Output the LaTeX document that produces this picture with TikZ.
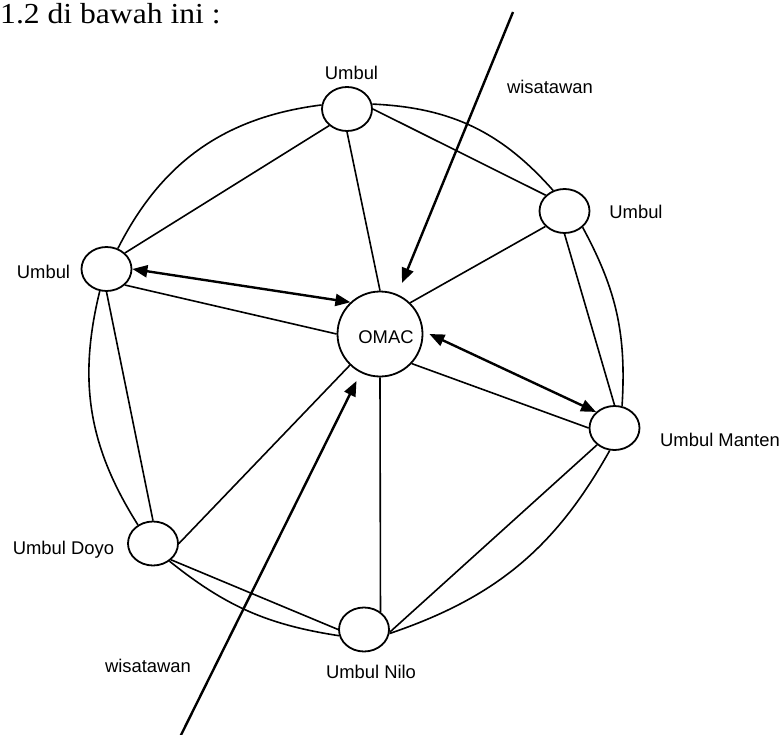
\documentclass[tikz,border=0pt]{standalone}
\usepackage{fontspec}
\setmainfont{Liberation Serif}
\newfontfamily\arialfont{Liberation Sans}
\usetikzlibrary{arrows.meta,shapes.geometric}
\begin{document}
\begin{tikzpicture}[x=1pt,y=1pt,
  site/.style={ellipse, draw, line width=1.8pt, fill=white, minimum width=50pt, minimum height=44pt, inner sep=0pt},
  hub/.style={circle, draw, line width=1.8pt, fill=white, minimum size=85pt, inner sep=0pt},
  lbl/.style={font=\arialfont\fontsize{18.4}{20}\selectfont, inner sep=0pt, anchor=base},
  link/.style={line width=1.6pt},
  flow/.style={line width=2.4pt, -{Triangle[length=15pt,width=12pt]}},
  both/.style={line width=2.4pt, {Triangle[length=15pt,width=12pt]}-{Triangle[length=15pt,width=12pt]}}
]
\useasboundingbox (0,0) rectangle (781,-735);

\node[anchor=base west, inner sep=0pt, font=\fontsize{29}{32}\selectfont, xscale=1.09, transform shape] (title) at (0,-24) {1.2 di bawah ini :};

\node[site] (T) at (347,-109) {};
\node[site] (RT) at (564.5,-211) {};
\node[site] (L) at (106.5,-269) {};
\node[hub] (O) at (380,-334) {};
\node[site] (M) at (614.5,-428) {};
\node[site] (D) at (153,-543.5) {};
\node[site] (N) at (364,-629.5) {};

\node[lbl] (tO) at (386,-343.5) {OMAC};
\node[lbl] (tT) at (351.5,-79.5) {Umbul};
\node[lbl] (tRT) at (636,-218.5) {Umbul};
\node[lbl] (tL) at (43.5,-278.5) {Umbul};
\node[lbl] (tM) at (720,-446.7) {Umbul Manten};
\node[lbl] (tD) at (63.5,-554) {Umbul Doyo};
\node[lbl] (tN) at (371,-678.5) {Umbul Nilo};
\node[lbl] (w1) at (550,-94) {wisatawan};
\node[lbl] (w2) at (148,-672) {wisatawan};

% straight links
\draw[link] (T.east) -- (RT.140);
\draw[link] (T.223) -- (L.41);
\draw[link] (T.south) -- (O.north);
\draw[link] (RT.219) -- (O.46);
\draw[link] (RT.south) -- (M.north);
\draw[link] (L.-41) -- (O.west);
\draw[link] (L.south) -- (D.north);
\draw[link] (O.-43) -- (M.west);
\draw[link] (O.226) -- (D.east);
\draw[link] (O.south) -- (N.47);
\draw[link] (M.224) -- (N.-6);
\draw[link] (D.-42) -- (N.west);

% outer ring arcs
\draw[link] (T.171) to[bend right=28] (L.61);
\draw[link] (L.253) to[bend right=23] (D.129);
\draw[link] (D.-47) to[bend right=15] (N.194);
\draw[link] (N.-9) to[bend right=21] (M.258);
\draw[link] (M.71) to[bend right=16] (RT.-42);
\draw[link] (RT.119) to[bend right=23] (T.11);

% double arrows
\draw[both] (L.east) -- (O.133);
\draw[both] ([xshift=6pt]O.east) -- (M.139);

% visitor arrows
\coordinate (w1s) at (513,-12);
\coordinate (w1e) at (402,-283);
\draw[flow] (w1s) -- (w1e);
\coordinate (w2s) at (180.5,-736);
\coordinate (w2e) at (356.5,-381);
\draw[flow] (w2s) -- (w2e);
\end{tikzpicture}
\end{document}
